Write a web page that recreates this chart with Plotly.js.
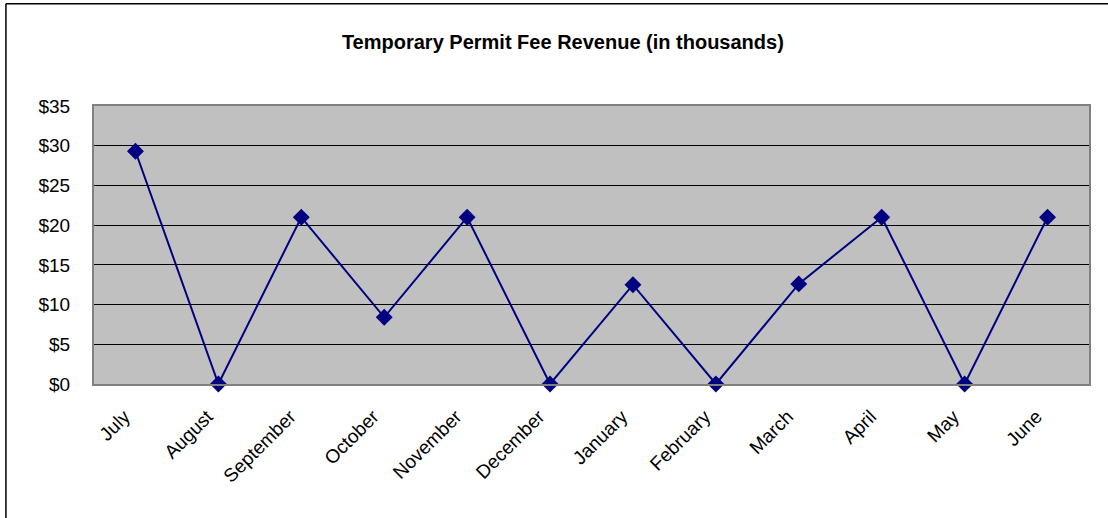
<!DOCTYPE html>
<html>
<head>
<meta charset="utf-8">
<script src="https://cdn.plot.ly/plotly-3.0.1.min.js"></script>
<style>
html,body{margin:0;padding:0;background:#fff;}
#chart{width:1108px;height:518px;}
</style>
</head>
<body>
<div id="chart"></div>
<script>
const months = ["July","August","September","October","November","December","January","February","March","April","May","June"];
const revenue = [29.3, 0, 21, 8.4, 21, 0, 12.5, 0, 12.6, 21, 0, 21];
const yTickVals = [0,5,10,15,20,25,30,35];
const yTickText = ["$0","$5","$10","$15","$20","$25","$30","$35"];

const trace = {
  x: months,
  y: revenue,
  type: "scatter",
  mode: "lines+markers",
  line: {color: "#000080", width: 2},
  marker: {symbol: "diamond", size: 13, color: "#000080"},
  cliponaxis: false,
  hoverinfo: "x+y"
};

const layout = {
  width: 1108,
  height: 518,
  margin: {l: 94, r: 19, t: 106, b: 134},
  paper_bgcolor: "#ffffff",
  plot_bgcolor: "#c0c0c0",
  showlegend: false,
  font: {family: "Liberation Sans, Arial, sans-serif", size: 19, color: "#000"},
  title: {
    text: "<b>Temporary Permit Fee Revenue (in thousands)</b>",
    font: {family: "Liberation Sans, Arial, sans-serif", size: 20, color: "#000"},
    x: 0.508, xref: "container", xanchor: "center",
    y: 0.919, yref: "container", yanchor: "middle"
  },
  xaxis: {
    type: "category",
    range: [-0.5, 11.5],
    tickangle: -45,
    showgrid: false,
    zeroline: false,
    showline: true,
    linecolor: "#808080",
    linewidth: 2,
    mirror: true,
    ticks: "",
    ticklabelstandoff: 12,
    ticklabelshift: -11,
    tickfont: {size: 19, color: "#000"},
    fixedrange: true
  },
  yaxis: {
    range: [0, 35],
    tickvals: yTickVals,
    ticktext: yTickText,
    showgrid: true,
    gridcolor: "#000000",
    gridwidth: 1,
    zeroline: false,
    showline: true,
    linecolor: "#808080",
    linewidth: 2,
    mirror: true,
    ticks: "",
    ticklabelstandoff: 18,
    tickfont: {size: 19, color: "#000"},
    fixedrange: true
  },
  shapes: [
    {type: "line", xref: "paper", yref: "paper", x0: -0.0885, x1: 1.03, y0: 1.368, y1: 1.368, line: {color: "#000", width: 1.5}},
    {type: "line", xref: "paper", yref: "paper", x0: -0.0885, x1: -0.0885, y0: 1.368, y1: -0.5, line: {color: "#000", width: 1.5}}
  ]
};

Plotly.newPlot("chart", [trace], layout, {displayModeBar: false, staticPlot: true});
</script>
</body>
</html>
